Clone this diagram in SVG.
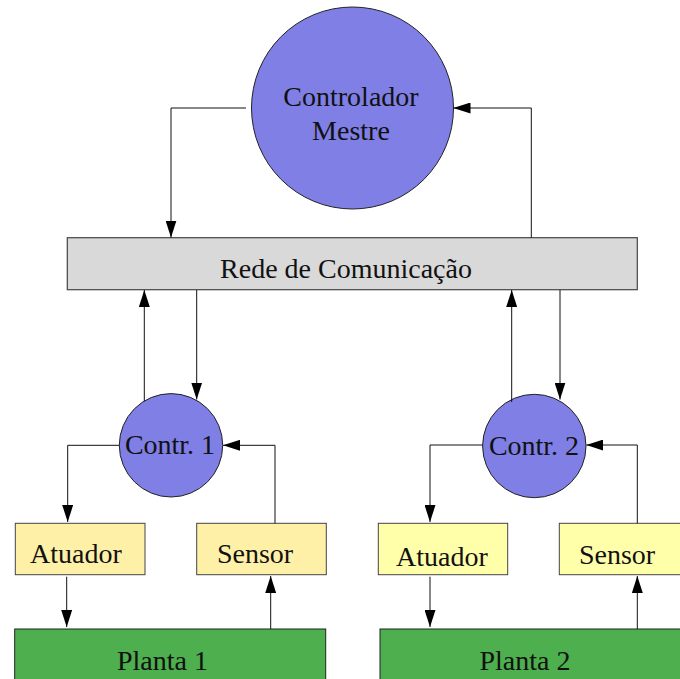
<svg xmlns="http://www.w3.org/2000/svg" width="680" height="679" viewBox="0 0 680 679" font-family="'Liberation Serif', 'DejaVu Serif', serif">
<style>
  text { font-family: 'Liberation Serif', 'DejaVu Serif', serif; font-size: 28px; fill: #111; text-anchor: middle; }
  .ctrl { fill: #7F7FE6; stroke: #222; stroke-width: 1; }
  .bus { fill: #D9D9D9; stroke: #444; stroke-width: 1.2; }
  .y1 { fill: #FFF0A8; stroke: #444; stroke-width: 1; }
  .y2 { fill: #FFFFAA; stroke: #444; stroke-width: 1; }
  .plant { fill: #4DAF4D; stroke: #222; stroke-width: 1; }
  .conn { fill: none; stroke: #111; stroke-width: 1; }
</style>
<defs>
  <marker id="arr" markerWidth="17" markerHeight="11" refX="17" refY="5.5" orient="auto" markerUnits="userSpaceOnUse">
    <path d="M0,0 L17,5.5 L0,11 Z" fill="#000"/>
  </marker>
</defs>

<g id="master">
  <circle class="ctrl" cx="352.5" cy="108" r="101"/>
  <text x="351" y="106">Controlador</text>
  <text x="351" y="140">Mestre</text>
</g>

<g id="bus">
  <rect class="bus" x="67.3" y="237.7" width="570" height="52"/>
  <text x="346" y="278">Rede de Comunicação</text>
</g>

<g id="contr1">
  <circle class="ctrl" cx="171" cy="445.3" r="51.7"/>
  <text x="170" y="454">Contr. 1</text>
</g>

<g id="contr2">
  <circle class="ctrl" cx="534.3" cy="446" r="51.7"/>
  <text x="534" y="455">Contr. 2</text>
</g>

<g id="atuador1">
  <rect class="y1" x="15.3" y="523.3" width="129.7" height="51.4"/>
  <text x="76" y="563">Atuador</text>
</g>

<g id="sensor1">
  <rect class="y1" x="196.7" y="523.3" width="129.6" height="51.4"/>
  <text x="255" y="563">Sensor</text>
</g>

<g id="atuador2">
  <rect class="y2" x="378.3" y="523.3" width="129.4" height="51.4"/>
  <text x="442" y="566">Atuador</text>
</g>

<g id="sensor2">
  <rect class="y2" x="559.3" y="523.3" width="140" height="51.4"/>
  <text x="617" y="564">Sensor</text>
</g>

<g id="planta1">
  <rect class="plant" x="14.7" y="629" width="311" height="70"/>
  <text x="162.5" y="670">Planta 1</text>
</g>

<g id="planta2">
  <rect class="plant" x="380" y="629" width="320" height="70"/>
  <text x="525" y="670">Planta 2</text>
</g>

<g id="connectors">
  <path class="conn" d="M246,108 H171 V237.5" marker-end="url(#arr)"/>
  <path class="conn" d="M531.3,237.7 V108 H453.5" marker-end="url(#arr)"/>

  <path class="conn" d="M144.3,401 V290" marker-end="url(#arr)"/>
  <path class="conn" d="M196.7,290 V399.5" marker-end="url(#arr)"/>
  <path class="conn" d="M511.7,402 V290" marker-end="url(#arr)"/>
  <path class="conn" d="M560,290 V399.5" marker-end="url(#arr)"/>

  <path class="conn" d="M119.3,445.3 H67.7 V522" marker-end="url(#arr)"/>
  <path class="conn" d="M275,523.3 V445.3 H223" marker-end="url(#arr)"/>
  <path class="conn" d="M482.7,445 H430 V522" marker-end="url(#arr)"/>
  <path class="conn" d="M637.3,523.3 V445 H586.3" marker-end="url(#arr)"/>

  <path class="conn" d="M66.7,576.7 V627" marker-end="url(#arr)"/>
  <path class="conn" d="M270.7,629 V576" marker-end="url(#arr)"/>
  <path class="conn" d="M430,576.7 V627" marker-end="url(#arr)"/>
  <path class="conn" d="M637.3,629 V576" marker-end="url(#arr)"/>
</g>
</svg>
